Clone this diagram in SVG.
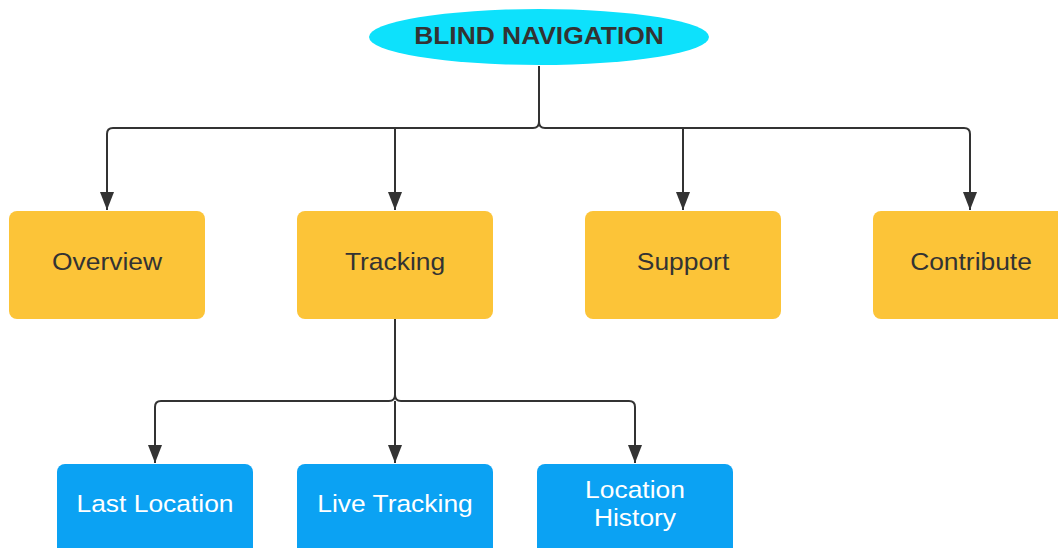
<svg xmlns="http://www.w3.org/2000/svg" width="1058" height="548" viewBox="0 0 1058 548">
  <style>
    .line { fill: none; stroke: #333333; stroke-width: 2; }
    .orange { fill: #FCC438; }
    .blue { fill: #0BA2F3; }
    .lbl { font-family: "Liberation Sans", Arial, sans-serif; font-size: 24px; text-anchor: middle; dominant-baseline: central; }
    .dark { fill: #333333; }
    .white { fill: #FFFFFF; }
  </style>
  <defs>
    <marker id="arrow" viewBox="0 0 18 14" refX="18" refY="7" markerWidth="18" markerHeight="14" markerUnits="userSpaceOnUse" orient="auto">
      <path d="M0,0 L18,7 L0,14 Z" fill="#333333"/>
    </marker>
  </defs>
  <rect width="1058" height="548" fill="#FFFFFF"/>

  <g id="connectors">
    <!-- root to first level -->
    <path class="line" d="M539,66 V122 Q539,128 533,128 H113 Q107,128 107,134 V210" marker-end="url(#arrow)"/>
    <path class="line" d="M539,122 Q539,128 545,128 H964 Q970,128 970,134 V210" marker-end="url(#arrow)"/>
    <path class="line" d="M395,128 V210" marker-end="url(#arrow)"/>
    <path class="line" d="M683,128 V210" marker-end="url(#arrow)"/>
    <!-- Tracking to second level -->
    <path class="line" d="M395,319 V395 Q395,401 389,401 H161 Q155,401 155,407 V463" marker-end="url(#arrow)"/>
    <path class="line" d="M395,395 Q395,401 401,401 H629 Q635,401 635,407 V463" marker-end="url(#arrow)"/>
    <path class="line" d="M395,401 V463" marker-end="url(#arrow)"/>
  </g>

  <g id="root">
    <ellipse cx="539" cy="37" rx="170" ry="28" fill="#0DE1FC"/>
    <text class="lbl dark" transform="translate(539,35) scale(1.1,1)" font-weight="bold">BLIND NAVIGATION</text>
  </g>

  <g id="overview">
    <rect class="orange" x="9" y="211" width="196" height="108" rx="8"/>
    <text class="lbl dark" transform="translate(107,261) scale(1.1,1)">Overview</text>
  </g>
  <g id="tracking">
    <rect class="orange" x="297" y="211" width="196" height="108" rx="8"/>
    <text class="lbl dark" transform="translate(395,261) scale(1.1,1)">Tracking</text>
  </g>
  <g id="support">
    <rect class="orange" x="585" y="211" width="196" height="108" rx="8"/>
    <text class="lbl dark" transform="translate(683,261) scale(1.1,1)">Support</text>
  </g>
  <g id="contribute">
    <rect class="orange" x="873" y="211" width="196" height="108" rx="8"/>
    <text class="lbl dark" transform="translate(971,261) scale(1.1,1)">Contribute</text>
  </g>

  <g id="last-location">
    <rect class="blue" x="57" y="464" width="196" height="108" rx="8"/>
    <text class="lbl white" transform="translate(155,503) scale(1.1,1)">Last Location</text>
  </g>
  <g id="live-tracking">
    <rect class="blue" x="297" y="464" width="196" height="108" rx="8"/>
    <text class="lbl white" transform="translate(395,503) scale(1.1,1)">Live Tracking</text>
  </g>
  <g id="location-history">
    <rect class="blue" x="537" y="464" width="196" height="108" rx="8"/>
    <text class="lbl white" transform="translate(635,489) scale(1.1,1)">Location</text>
    <text class="lbl white" transform="translate(635,517) scale(1.1,1)">History</text>
  </g>
</svg>
